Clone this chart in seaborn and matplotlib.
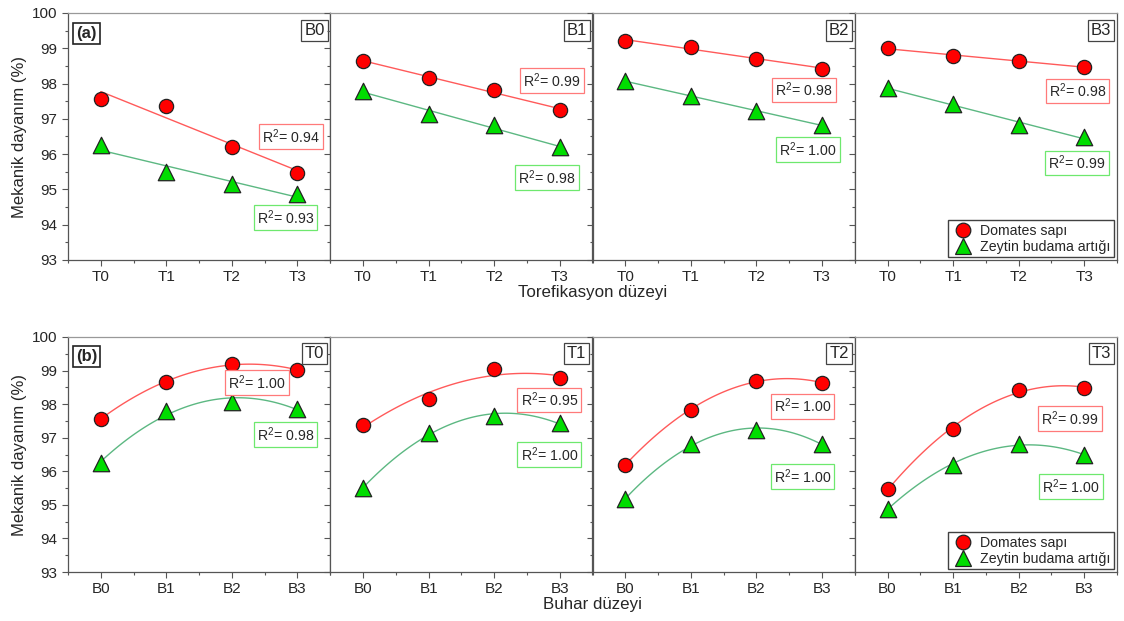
import numpy as np
import pandas as pd
import seaborn as sns
import matplotlib.pyplot as plt
from matplotlib.lines import Line2D
from matplotlib.ticker import MultipleLocator

sns.set_theme(style="ticks")
plt.rcParams['font.family'] = ['Liberation Sans', 'DejaVu Sans']
plt.rcParams['mathtext.fontset'] = 'custom'
plt.rcParams['mathtext.rm'] = 'Liberation Sans'
plt.rcParams['mathtext.it'] = 'Liberation Sans:italic'

# buhar (steam) levels x torefikasyon levels
buhar = ['B0', 'B1', 'B2', 'B3']
toref = ['T0', 'T1', 'T2', 'T3']

domates_B0 = [97.57, 97.37, 96.20, 95.47]
domates_B1 = [98.65, 98.15, 97.82, 97.25]
domates_B2 = [99.20, 99.05, 98.70, 98.42]
domates_B3 = [99.01, 98.78, 98.63, 98.48]

zeytin_B0 = [96.25, 95.49, 95.16, 94.88]
zeytin_B1 = [97.79, 97.15, 96.82, 96.19]
zeytin_B2 = [98.07, 97.65, 97.22, 96.82]
zeytin_B3 = [97.87, 97.43, 96.82, 96.48]

# R2 labels: top row (linear, per B), bottom row (quadratic, per T)
r2_top_dom = ['0.94', '0.99', '0.98', '0.98']
r2_top_zey = ['0.93', '0.98', '1.00', '0.99']
r2_bot_dom = ['1.00', '0.95', '1.00', '0.99']
r2_bot_zey = ['0.98', '1.00', '1.00', '1.00']

dom = np.array([domates_B0, domates_B1, domates_B2, domates_B3])
zey = np.array([zeytin_B0, zeytin_B1, zeytin_B2, zeytin_B3])

# label box positions (axes fraction)
pos_top_dom = [(0.85, 0.50), (0.845, 0.726), (0.807, 0.688), (0.849, 0.684)]
pos_top_zey = [(0.83, 0.173), (0.827, 0.335), (0.822, 0.448), (0.847, 0.393)]
pos_bot_dom = [(0.72, 0.807), (0.835, 0.732), (0.80, 0.706), (0.82, 0.652)]
pos_bot_zey = [(0.83, 0.586), (0.835, 0.501), (0.80, 0.406), (0.825, 0.363)]

RED = '#ff0000'
GREEN = '#00dd00'
RED_LINE = '#ff5a5a'
GREEN_LINE = '#5cb882'
RED_BOX = '#ff7a7a'
GREEN_BOX = '#6ee86e'
SPINE = '#555555'

fig, axes = plt.subplots(2, 4, figsize=(11.24, 6.21), dpi=100, sharey=True)

W = 1124
H = 621
left, right = 68, 1117
pw = (right - left) / 4
rows_px = [(13, 260), (337, 572)]
for r in range(2):
    t, b = rows_px[r]
    for c in range(4):
        axes[r, c].set_position([(left + c * pw) / W, 1 - b / H, pw / W, (b - t) / H])


def draw_panel(ax, xlabels, y_dom, y_zey, order, r2d, r2z, pd_, pz_, tag):
    x = np.arange(4)
    df = pd.DataFrame({'x': x, 'dom': y_dom, 'zey': y_zey})
    sns.regplot(data=df, x='x', y='dom', order=order, ci=None, scatter=False, ax=ax,
                line_kws=dict(color=RED_LINE, lw=1.0, zorder=2))
    sns.regplot(data=df, x='x', y='zey', order=order, ci=None, scatter=False, ax=ax,
                line_kws=dict(color=GREEN_LINE, lw=1.0, zorder=2))
    sns.scatterplot(data=df, x='x', y='dom', marker='o', color=RED, edgecolor='#222222',
                    linewidth=0.9, s=105, ax=ax, zorder=3)
    sns.scatterplot(data=df, x='x', y='zey', marker='^', color=GREEN, edgecolor='#222222',
                    linewidth=0.9, s=140, ax=ax, zorder=3)
    ax.set_xlim(-0.5, 3.5)
    ax.set_ylim(93, 100)
    ax.set_xticks(x)
    ax.set_xticklabels(xlabels)
    ax.xaxis.set_minor_locator(MultipleLocator(0.5))
    ax.yaxis.set_major_locator(MultipleLocator(1))
    ax.yaxis.set_minor_locator(MultipleLocator(0.5))
    ax.tick_params(which='major', length=4, width=0.8, color=SPINE, labelsize=11, direction='out')
    ax.tick_params(which='minor', length=2.5, width=0.8, color=SPINE, direction='out')
    ax.set_xlabel('')
    ax.set_ylabel('')
    for s in ax.spines.values():
        s.set_visible(True)
        s.set_color(SPINE)
        s.set_linewidth(0.9)
    ax.spines['top'].set_color('#999999')
    ax.text(pd_[0], pd_[1], 'R$^2$= ' + r2d, transform=ax.transAxes, ha='center', va='center',
            fontsize=10.2, bbox=dict(boxstyle='square,pad=0.22', fc='white', ec=RED_BOX, lw=0.9))
    ax.text(pz_[0], pz_[1], 'R$^2$= ' + r2z, transform=ax.transAxes, ha='center', va='center',
            fontsize=10.2, bbox=dict(boxstyle='square,pad=0.22', fc='white', ec=GREEN_BOX, lw=0.9))
    ax.text(0.94, 0.93, tag, transform=ax.transAxes, ha='center', va='center', fontsize=12,
            bbox=dict(boxstyle='square,pad=0.18', fc='white', ec='#444444', lw=0.9))


for c in range(4):
    draw_panel(axes[0, c], toref, dom[c], zey[c], 1, r2_top_dom[c], r2_top_zey[c],
               pos_top_dom[c], pos_top_zey[c], buhar[c])
    draw_panel(axes[1, c], buhar, dom[:, c], zey[:, c], 2, r2_bot_dom[c], r2_bot_zey[c],
               pos_bot_dom[c], pos_bot_zey[c], toref[c])

for r, lab in enumerate(['(a)', '(b)']):
    axes[r, 0].text(0.07, 0.915, lab, transform=axes[r, 0].transAxes, ha='center', va='center',
                    fontsize=12, fontweight='bold',
                    bbox=dict(boxstyle='square,pad=0.18', fc='white', ec='#222222', lw=1.2))
    axes[r, 0].set_ylabel('Mekanik dayanım (%)', fontsize=12, labelpad=4)

handles = [Line2D([], [], ls='', marker='o', ms=10.5, mfc=RED, mec='#222222', mew=0.9),
           Line2D([], [], ls='', marker='^', ms=11.5, mfc=GREEN, mec='#222222', mew=0.9)]
for r in range(2):
    leg = axes[r, 3].legend(handles, ['Domates sapı', 'Zeytin budama artığı'], loc='lower right',
                            fontsize=10.2, frameon=True, fancybox=False, borderaxespad=0.2,
                            handletextpad=0.4, borderpad=0.25, labelspacing=0.15,
                            handlelength=1.6)
    leg.get_frame().set_edgecolor('#111111')
    leg.get_frame().set_linewidth(1.0)

fig.text((left + 2 * pw) / W, 1 - 293 / H, 'Torefikasyon düzeyi', ha='center', va='center', fontsize=12.2)
fig.text((left + 2 * pw) / W, 1 - 605 / H, 'Buhar düzeyi', ha='center', va='center', fontsize=12.2)

fig.savefig('out.png', dpi=100)
